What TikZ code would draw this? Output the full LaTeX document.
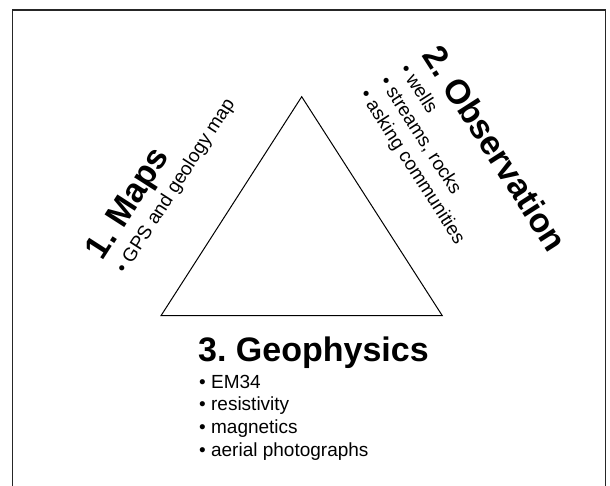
\documentclass[tikz,border=0pt]{standalone}
\usepackage{fontspec}
\setmainfont{Liberation Sans}
\frenchspacing
\begin{document}
\begin{tikzpicture}[x=1pt,y=-1pt,
  titletext/.style={anchor=base west,inner sep=0pt,font=\frenchspacing\fontsize{34}{40}\selectfont\bfseries},
  itemtext/.style={anchor=base west,inner sep=0pt,font=\frenchspacing\fontsize{19}{23}\selectfont},
  frameline/.style={line width=1.6pt,draw=black!85},
  triline/.style={line width=1pt,draw=black}]
\useasboundingbox (0,0) rectangle (610,486);
% frame (open at the bottom)
\coordinate (fbl) at (12.5,486);
\coordinate (ftl) at (12.5,10);
\coordinate (ftr) at (605.5,10);
\coordinate (fbr) at (605.5,486);
\draw[frameline] (fbl) -- (ftl) -- (ftr) -- (fbr);
% triangle
\coordinate (apex) at (301.7,96.7);
\coordinate (bl) at (161,315.7);
\coordinate (br) at (442.3,315.7);
\draw[triline,line join=miter] (apex) -- (bl) -- (br) -- cycle;
% 1. Maps
\node[titletext,rotate=57.3] (mapsT) at (102.7,261.3) {1. Maps};
\node[itemtext,rotate=57.3] (mapsA) at (125.3,274.3) {• GPS and geology map};
% 2. Observation
\node[titletext,rotate=-57.3] (obsT) at (421.3,55.2) {2. Observation};
\node[itemtext,rotate=-57.3] (obsA) at (398.9,69.0) {• wells};
\node[itemtext,rotate=-57.3] (obsB) at (379.0,81.8) {• streams, rocks};
\node[itemtext,rotate=-57.3] (obsC) at (359.1,94.6) {• asking communities};
% 3. Geophysics
\node[titletext] (geoT) at (198,361) {3. Geophysics};
\node[itemtext] (geoA) at (199,388) {• EM34};
\node[itemtext] (geoB) at (199,410.7) {• resistivity};
\node[itemtext] (geoC) at (199,433.7) {• magnetics};
\node[itemtext] (geoD) at (199,456) {• aerial photographs};
\end{tikzpicture}
\end{document}
